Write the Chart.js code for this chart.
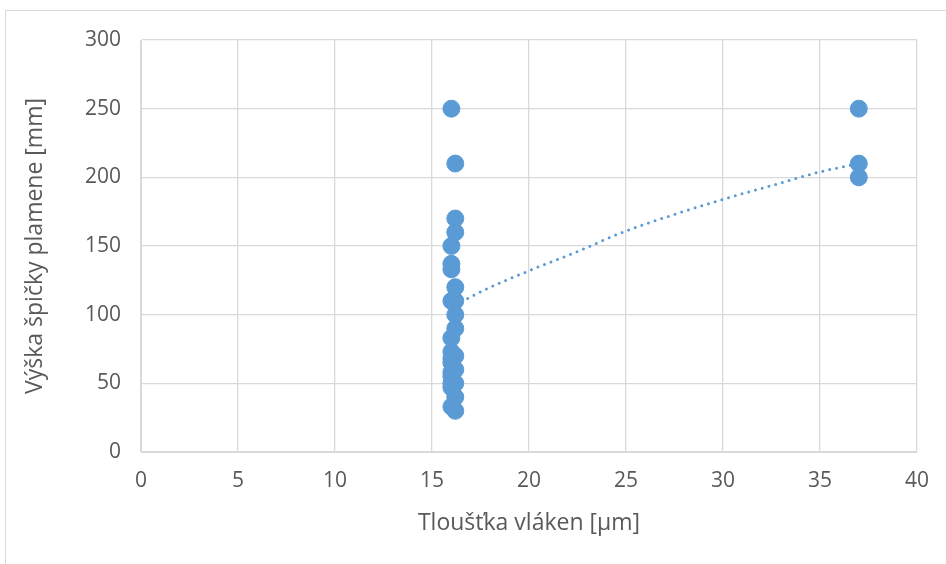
<!DOCTYPE html>
<html><head><meta charset="utf-8">
<script src="https://cdn.jsdelivr.net/npm/chart.js@4"></script>
<style>
html,body{margin:0;padding:0;background:#fff;overflow:hidden;}
#wrap{position:absolute;left:0;top:0;width:946px;height:564px;}
#frame{position:absolute;left:5px;top:10px;width:960px;height:600px;border:1px solid #d9d9d9;box-sizing:border-box;}
</style></head>
<body>
<div id="wrap"><div id="frame"></div><canvas id="c" width="946" height="564"></canvas></div>
<script>
// Measured points: fiber thickness [µm] vs flame tip height [mm]
const thicknessX = [16, 16.2, 16.2, 16.2, 16, 16, 16, 16.2, 16, 16.2, 16.2, 16.2, 16, 16, 16.2, 16, 16, 16.2, 16, 16, 16.2, 16, 16, 16.2, 16, 16.2, 37, 37, 37];
const heightY    = [250, 210, 170, 160, 150, 137, 133, 120, 110, 110, 100, 90, 83, 73, 70, 68, 65, 60, 58, 55, 50, 50, 47, 40, 33, 30, 250, 210, 200];
// Trendline
const trendX = [16.2, 18, 20, 22.5, 25, 27.5, 30, 32.5, 35, 37];
const trendY = [107, 120, 132, 146, 161, 173, 184, 194, 204, 210];
const xTitle = 'Tloušťka vláken [µm]';
const yTitle = 'Výška špičky plamene [mm]';

const pts = thicknessX.map((x, i) => ({x: x, y: heightY[i]}));
const trend = trendX.map((x, i) => ({x: x, y: trendY[i]}));
const txt = '#595959';
const grid = '#d9d9d9';
const fam = "'Open Sans', 'Noto Sans', sans-serif";

new Chart(document.getElementById('c'), {
  type: 'scatter',
  data: {datasets: [
    {data: trend, showLine: true, borderColor: '#5b9bd5', borderWidth: 3, borderDash: [0, 7],
     borderCapStyle: 'round', pointRadius: 0, tension: 0.4, cubicInterpolationMode: 'monotone', order: 2},
    {data: pts, backgroundColor: '#5b9bd5', borderColor: '#5b9bd5', pointRadius: 8.5, pointHoverRadius: 8.5, order: 1}
  ]},
  options: {
    responsive: false, animation: false,
    layout: {padding: {left: 18, top: 40, right: 29, bottom: 23}},
    plugins: {legend: {display: false}, tooltip: {enabled: false}},
    scales: {
      x: {type: 'linear', min: 0, max: 40,
        ticks: {stepSize: 5, color: txt, font: {family: fam, size: 21}, padding: 16},
        grid: {color: grid, lineWidth: 1.3, drawTicks: false},
        border: {color: grid},
        title: {display: true, text: xTitle, color: txt, font: {family: fam, size: 23}, padding: {top: 4}},
        afterFit: (a) => { a.height = 89; }
      },
      y: {type: 'linear', min: 0, max: 300,
        ticks: {stepSize: 50, color: txt, font: {family: fam, size: 21}, padding: 20},
        grid: {color: grid, lineWidth: 1.3, drawTicks: false},
        border: {color: grid},
        title: {display: true, text: yTitle, color: txt, font: {family: fam, size: 23}, padding: {bottom: 4}},
        afterFit: (a) => { a.width = 123; }
      }
    }
  }
});
</script>
</body></html>
